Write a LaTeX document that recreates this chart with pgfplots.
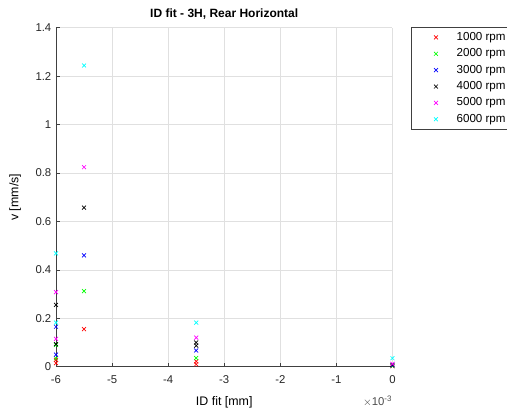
\documentclass[border=0pt]{standalone}
\usepackage{fontspec}
\setmainfont{Liberation Sans}
\usepackage{pgfplots}
\pgfplotsset{compat=1.18}
\definecolor{axgray}{gray}{0.25}
\definecolor{grd}{gray}{0.88}
\definecolor{mred}{rgb}{1,0,0}
\definecolor{mgreen}{rgb}{0,1,0}
\definecolor{mblue}{rgb}{0,0,1}
\definecolor{mblack}{rgb}{0,0,0}
\definecolor{mmag}{rgb}{1,0,1}
\definecolor{mcyan}{rgb}{0,1,1}
\begin{document}
\begin{tikzpicture}
\begin{axis}[
  scale only axis,
  width=252.4pt, height=254.25pt,
  xmin=-6, xmax=0, ymin=0, ymax=1.4,
  xtick={-6,-5,...,0}, ytick={0,0.2,...,1.4},
  /pgf/number format/assume math mode=true,
  yticklabel style={/pgf/number format/fixed},
  ticklabel style={font=\fontsize{8.5}{10}\selectfont, text=black!85},
  xticklabel style={yshift=-3pt},
  axis x line*=bottom, axis y line*=left,
  axis line style={axgray, line width=0.5pt},
  tick style={axgray, line width=0.5pt},
  tick align=inside, major tick length=3pt,
  grid=major, major grid style={grd, line width=0.5pt},
  title={\bfseries ID fit - 3H, Rear Horizontal},
  title style={font=\fontsize{9}{10}\selectfont, yshift=-3pt},
  xlabel={ID fit [mm]}, ylabel={v [mm/s]},
  label style={font=\fontsize{9.3}{10}\selectfont},
  xlabel style={yshift=-3pt},
  ylabel style={yshift=4pt},
  clip=false,
  legend cell align=left,
  legend style={at={(rel axis cs:1.055,1.003)}, anchor=north west,
    draw=axgray, line width=0.5pt, font=\fontsize{8.7}{9}\selectfont,
    row sep=0.7pt, inner xsep=17pt, inner ysep=2pt,
    /tikz/every odd column/.append style={column sep=12pt}},
]
\addplot[mred, only marks, mark=x, mark size=2.1pt, line width=0.5pt] coordinates {(-6,0.028) (-6,0.015) (-5.5,0.155) (-3.5,0.022) (-3.5,0.010) (0,0.002)};
\addlegendentry{1000 rpm}
\addplot[mgreen, only marks, mark=x, mark size=2.1pt, line width=0.5pt] coordinates {(-6,0.090) (-6,0.035) (-5.5,0.312) (-3.5,0.036) (0,0.003)};
\addlegendentry{2000 rpm}
\addplot[mblue, only marks, mark=x, mark size=2.1pt, line width=0.5pt] coordinates {(-6,0.165) (-6,0.050) (-5.5,0.460) (-3.5,0.067) (0,0.005)};
\addlegendentry{3000 rpm}
\addplot[mblack, only marks, mark=x, mark size=2.1pt, line width=0.5pt] coordinates {(-6,0.255) (-6,0.093) (-5.5,0.657) (-3.5,0.100) (-3.5,0.087) (0,0.008)};
\addlegendentry{4000 rpm}
\addplot[mmag, only marks, mark=x, mark size=2.1pt, line width=0.5pt] coordinates {(-6,0.308) (-6,0.115) (-5.5,0.824) (-3.5,0.120) (0,0.012)};
\addlegendentry{5000 rpm}
\addplot[mcyan, only marks, mark=x, mark size=2.1pt, line width=0.5pt] coordinates {(-6,0.468) (-6,0.182) (-5.5,1.244) (-3.5,0.182) (0,0.035)};
\addlegendentry{6000 rpm}
\coordinate (bl) at (rel axis cs:0,0);
\coordinate (tr) at (rel axis cs:1,1);
\end{axis}
\node[anchor=north east, font=\fontsize{8.5}{9}\selectfont, text=black!70, inner sep=0pt]
  at ([yshift=-22pt]bl -| tr) {$\times$10\textsuperscript{-3}};
\pgfresetboundingbox
\path ([xshift=-42pt,yshift=-34pt]bl) rectangle ([xshift=85.9pt,yshift=20.8pt]tr);
\end{tikzpicture}
\end{document}
